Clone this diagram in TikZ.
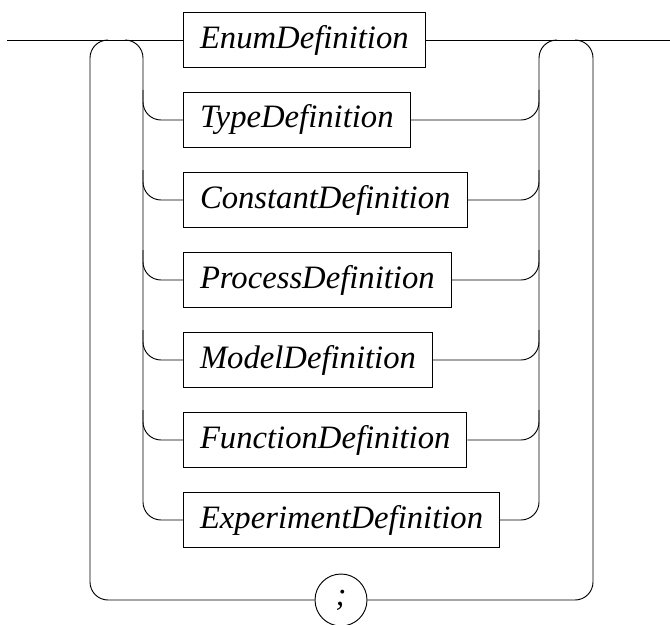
\documentclass[tikz,border=0pt]{standalone}
\usepackage{fontspec}
\setmainfont{Liberation Serif}
\usetikzlibrary{positioning}
\tikzset{nonterm/.style={draw,line width=0.7pt,anchor=west,minimum height=41pt,inner xsep=12.4pt,font=\fontsize{24.5}{29}\selectfont\itshape}}
\tikzset{term/.style={draw,circle,line width=0.7pt,minimum size=39pt,inner sep=0pt,font=\fontsize{24.5}{29}\selectfont\itshape}}
\tikzset{rail/.style={line width=0.7pt,rounded corners=13.5pt}}

\begin{document}
\begin{tikzpicture}[x=0.75pt,y=-0.75pt]
  \useasboundingbox (0,0) rectangle (670,624);
  \coordinate (start) at (7,40);
  \coordinate (finish) at (670,40);
  \coordinate (lout) at (90,0);
  \coordinate (lin) at (143,0);
  \coordinate (rin) at (539,0);
  \coordinate (rout) at (593,0);
        \foreach \name/\txt [count=\i] in {enum/EnumDefinition,type/TypeDefinition,constant/ConstantDefinition,process/ProcessDefinition,model/ModelDefinition,function/FunctionDefinition,experiment/ExperimentDefinition}
          \node[nonterm] (\name) at (183,80*\i-40) {\txt};
  \node[term] (semi) at (341,600) {;};
  % main line
  \draw[rail] (start) -- (enum) -- (finish);
  % left rails
  \draw[rail] ([xshift=13.5pt]lout |- start) -- (lout |- start) -- (lout |- semi) -- (semi);
  \draw[rail] ([xshift=-13.5pt]lin |- start) -- (lin |- start) -- (lin |- experiment) -- (experiment);
  % right rails
  \draw[rail] (experiment) -- (rin |- experiment) -- (rin |- start) -- ([xshift=13.5pt]rin |- start);
  \draw[rail] ([xshift=-13.5pt]rout |- start) -- (rout |- start) -- (rout |- semi) -- (semi);
        \foreach \name in {type,constant,process,model,function} {
          \draw[rail] (\name) -- (lin |- \name) -- ++(0,-30);
          \draw[rail] (\name) -- (rin |- \name) -- ++(0,-30);
        }
\end{tikzpicture}
\end{document}
